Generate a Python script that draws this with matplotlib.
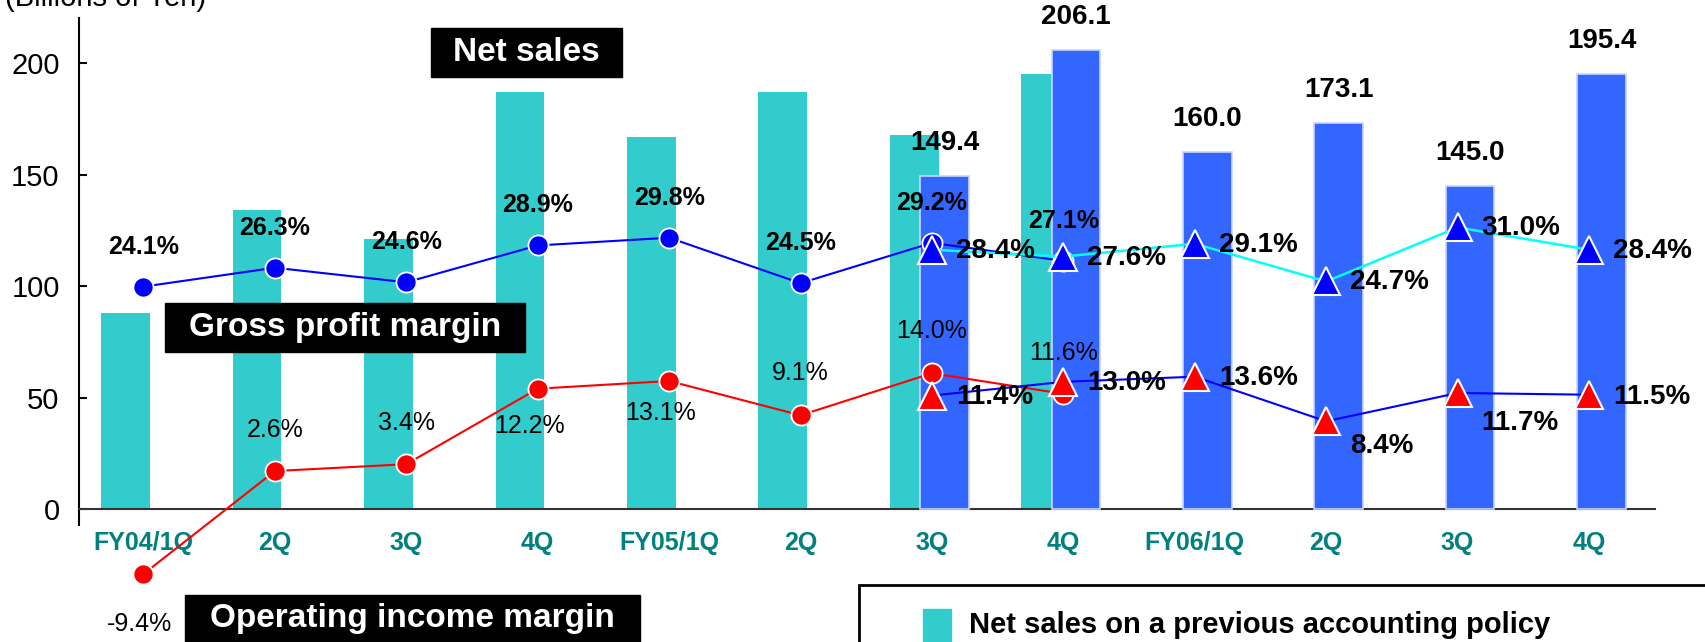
import numpy as np
import matplotlib
matplotlib.use("Agg")
from matplotlib import pyplot as plt
from matplotlib.patches import Rectangle

plt.rcParams['font.family'] = ['Liberation Sans', 'DejaVu Sans']

# data
quarters = ['FY04/1Q', '2Q', '3Q', '4Q', 'FY05/1Q', '2Q', '3Q', '4Q',
            'FY06/1Q', '2Q', '3Q', '4Q']
sales_prev = [88, 134, 121, 187, 167, 187, 168, 195]        # FY04/1Q .. FY05/4Q
sales_new = [149.4, 206.1, 160.0, 173.1, 145.0, 195.4]      # FY05/3Q .. FY06/4Q
gpm_prev = [24.1, 26.3, 24.6, 28.9, 29.8, 24.5, 29.2, 27.1]
opm_prev = [-9.4, 2.6, 3.4, 12.2, 13.1, 9.1, 14.0, 11.6]
gpm_new = [28.4, 27.6, 29.1, 24.7, 31.0, 28.4]
opm_new = [11.4, 13.0, 13.6, 8.4, 11.7, 11.5]

# label offsets in pixels (dx, dy)
opm_prev_off = [(-4, -50), (0, 41), (0, 41), (-8, -37), (-9, -32), (0, 42), (0, 42), (0, 41)]
opm_new_dy = [-1, -1, -1, -25, -30, -2]

W, H = 1705, 642
fig = plt.figure(figsize=(W / 100, H / 100), dpi=100)

def fx(x): return x / W
def fy(y): return 1 - y / H

ylo, yhi = -7.2, 220.2
ax = fig.add_axes([fx(79.1), fy(525), (1654.7 - 79.1) / W, (525 - 18.3) / H])
ax.set_xlim(-0.49, 11.5)
ax.set_ylim(ylo, yhi)

x_prev = np.arange(len(sales_prev))
x_new = np.arange(6, 6 + len(sales_new))
bw = 0.37
ax.bar(x_prev - 0.135, sales_prev, bw, color='#33CCCC', zorder=2)
ax.bar(x_new + 0.095, sales_new, bw, color='#3366FF', edgecolor='#C8D4FF',
       linewidth=1.2, zorder=3)
for xi, v in zip(x_new, sales_new):
    ax.annotate(f'{v:.1f}', (xi + 0.095, v), xytext=(0, 33), textcoords='offset pixels',
                ha='center', va='center', fontsize=20, fontweight='bold', zorder=5)

ax.spines['top'].set_visible(False)
ax.spines['right'].set_visible(False)
ax.spines['bottom'].set_position(('data', 0))
ax.spines['bottom'].set_color('#333333')
ax.spines['bottom'].set_linewidth(1.5)
ax.spines['left'].set_linewidth(1.5)
ax.set_yticks([0, 50, 100, 150, 200])
ax.tick_params(axis='y', direction='in', length=6, width=1.5, pad=14, labelsize=21)
ax.set_xticks(np.arange(len(quarters)))
ax.set_xticklabels(quarters, fontsize=18, fontweight='bold', color='#008080')
ax.tick_params(axis='x', length=0, pad=16)

# margins on a secondary scale: bar value = 3.85 * pct + 7
a, b = 3.85, 7.0
ax2 = ax.twinx()
ax2.set_ylim((ylo - b) / a, (yhi - b) / a)
ax2.axis('off')

ax2.plot(x_prev, gpm_prev, color='#0000FF', lw=1.5, marker='o', ms=14.5,
         mfc='#0000FF', mec='white', mew=1.3, clip_on=False, zorder=3)
ax2.plot(x_prev, opm_prev, color='#FF0000', lw=1.5, marker='o', ms=14.5,
         mfc='#FF0000', mec='white', mew=1.3, clip_on=False, zorder=3)
ax2.plot(x_new, gpm_new, color='#00FFFF', lw=1.8, marker='^', ms=20,
         mfc='#0000FF', mec='white', mew=1.5, clip_on=False, zorder=4)
ax2.plot(x_new, opm_new, color='#0000FF', lw=1.5, marker='^', ms=20,
         mfc='#FF0000', mec='white', mew=1.5, clip_on=False, zorder=4)

for xi, v in zip(x_prev, gpm_prev):
    ax2.annotate(f'{v:.1f}%', (xi, v), xytext=(0, 40), textcoords='offset pixels',
                 ha='center', va='center', fontsize=18, fontweight='bold', zorder=6)
for xi, v, (dx, dy) in zip(x_prev, opm_prev, opm_prev_off):
    ax2.annotate(f'{v:.1f}%', (xi, v), xytext=(dx, dy), textcoords='offset pixels',
                 ha='center', va='center', fontsize=18, zorder=6,
                 annotation_clip=False)
for xi, v in zip(x_new, gpm_new):
    ax2.annotate(f'{v:.1f}%', (xi, v), xytext=(24, -1), textcoords='offset pixels',
                 ha='left', va='center', fontsize=20, fontweight='bold', zorder=6)
for xi, v, dy in zip(x_new, opm_new, opm_new_dy):
    ax2.annotate(f'{v:.1f}%', (xi, v), xytext=(24, dy), textcoords='offset pixels',
                 ha='left', va='center', fontsize=20, fontweight='bold', zorder=6)

# black title boxes
def black_box(x0, y0, x1, y1, txt, ty=None):
    fig.add_artist(Rectangle((fx(x0), fy(y1)), (x1 - x0) / W, (y1 - y0) / H,
                             transform=fig.transFigure, color='black', zorder=5))
    cy = (y0 + y1) / 2 if ty is None else ty
    fig.text(fx((x0 + x1) / 2), fy(cy), txt, color='white', fontsize=24,
             fontweight='bold', ha='center', va='center', zorder=6)

black_box(431, 28, 622, 77, 'Net sales')
black_box(165, 303, 525, 352, 'Gross profit margin')
black_box(185, 595, 640, 660, 'Operating income margin', ty=619)

# legend box
fig.add_artist(Rectangle((fx(859), fy(700)), (1720 - 859) / W, (700 - 585) / H,
                         transform=fig.transFigure, facecolor='white',
                         edgecolor='black', lw=2, zorder=5))
fig.add_artist(Rectangle((fx(923), fy(650)), 28 / W, 41 / H,
                         transform=fig.transFigure, color='#33CCCC', zorder=6))
fig.text(fx(969), fy(625), 'Net sales on a previous accounting policy', fontsize=21,
         fontweight='bold', ha='left', va='center', zorder=6)

fig.text(fx(5), fy(6), '(Billions of Yen)', fontsize=21, ha='left', va='baseline')

fig.savefig('out.png', dpi=100)
